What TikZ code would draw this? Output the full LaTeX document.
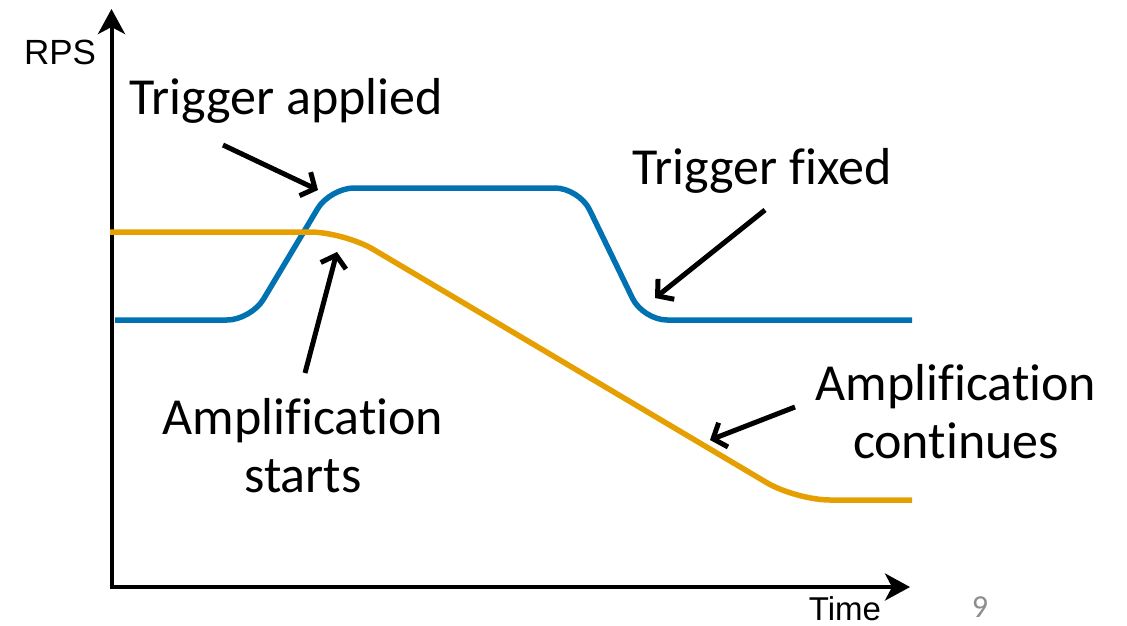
\documentclass[tikz,border=0pt]{standalone}
\usepackage{fontspec}
\setmainfont[RawFeature={-liga;-clig;-dlig;-calt}]{Carlito}
\newfontfamily\axisfont{Liberation Sans}
\usetikzlibrary{arrows.meta}
\definecolor{curveblue}{HTML}{0072B2}
\definecolor{curveorange}{HTML}{E69F00}
\definecolor{pagegrey}{HTML}{8C8C8C}
% keeps f+i and t+i as separate letters
\newcommand{\sep}{\kern0pt\relax}
\tikzset{
  axisline/.style={line width=4pt, -{Stealth[length=25pt,width=27pt,inset=7pt]}},
  curve/.style={line width=5.5pt, line cap=butt},
  pointer/.style={line width=5pt, -{Straight Barb[length=11pt,width=26pt]}},
  callout/.style={font=\fontsize{52}{58}\selectfont, inner sep=0pt, align=center},
  axislabel/.style={font=\axisfont\fontsize{33}{36}\selectfont, inner sep=0pt},
}
\begin{document}
\begin{tikzpicture}[x=1pt,y=-1pt]
\useasboundingbox (0,0) rectangle (1127,625);

% axes
\coordinate (origin) at (111.5,587);
\coordinate (ytip) at (111.5,9);
\coordinate (xtip) at (910,587);
\draw[axisline] ([yshift=2pt]origin) -- (ytip);
\draw[axisline] ([xshift=-2pt]origin) -- (xtip);
\node[axislabel, font=\axisfont\fontsize{35}{38}\selectfont, anchor=base] (rps) at (60,64) {RPS};
\node[axislabel, anchor=base] (time) at (845,620) {Time};
\node[font=\fontsize{32}{34}\selectfont, text=pagegrey, inner sep=0pt, anchor=base] (page) at (980,617) {9};

% trigger signal
\draw[curve, curveblue, rounded corners=24pt]
  (115,320) -- (251,320) -- (330,188) -- (579,188) -- (643,320) -- (912,320);
% amplified response
\draw[curve, curveorange, rounded corners=34pt]
  (110,232) -- (344,232) -- (796,500) -- (912,500);

% callouts
\node[callout, anchor=base] (applied) at (286,114) {Trigger applied};
\node[callout, anchor=base] (fixed) at (762,184) {Trigger f\sep ixed};
\node[callout] (starts) at (303,446) {Amplif\sep icat\sep ion\\starts};
\node[callout] (continues) at (956,412) {Amplif\sep icat\sep ion\\continues};

% pointer arrows
\coordinate (appliedTail) at (223,145);
\coordinate (appliedTip) at (318,190);
\coordinate (startsTail) at (305,373);
\coordinate (startsTip) at (337,252);
\coordinate (fixedTail) at (765,210);
\coordinate (fixedTip) at (655,298);
\coordinate (contTail) at (795,407);
\coordinate (contTip) at (710,440);
\draw[pointer] (appliedTail) -- (appliedTip);
\draw[pointer] (startsTail) -- (startsTip);
\draw[pointer] (fixedTail) -- (fixedTip);
\draw[pointer] (contTail) -- (contTip);
\end{tikzpicture}
\end{document}
